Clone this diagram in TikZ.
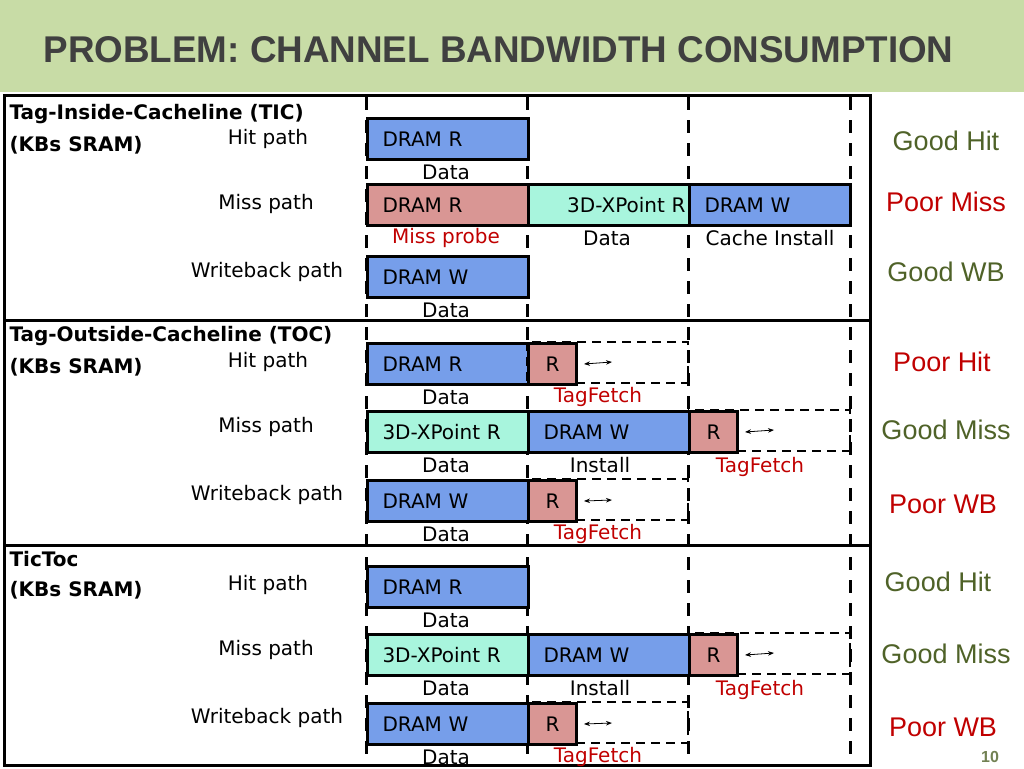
\documentclass[tikz,border=0pt]{standalone}
\usepackage{fontspec}
\setmainfont{DejaVu Sans}
\newfontfamily\arialfont{Liberation Sans}
\usetikzlibrary{arrows.meta}
\definecolor{dramBlue}{HTML}{769EEA}
\definecolor{probePink}{HTML}{D99694}
\definecolor{xpointGreen}{HTML}{A8F5DD}
\definecolor{titleGreen}{HTML}{C8DCA6}
\definecolor{goodGreen}{HTML}{4F6228}
\definecolor{poorRed}{HTML}{C00000}
\begin{document}
\begin{tikzpicture}[x=1pt,y=-1pt,%%
  boxStyle/.style={draw,line width=3pt,anchor=north west,minimum height=41pt,
    inner xsep=15pt,text width=131pt,align=left,font=\fontsize{20}{22}\selectfont},%%
  tagStyle/.style={draw,line width=3pt,anchor=north west,minimum height=41pt,
    inner xsep=0pt,text width=48pt,align=center,fill=probePink,font=\fontsize{20}{22}\selectfont},%%
  dashStyle/.style={line width=3pt,dash pattern=on 13pt off 10pt},%%
  dashBoxStyle/.style={line width=2.5pt,dash pattern=on 9pt off 6pt},%%
  arrowStyle/.style={{Stealth[length=6pt]}-{Stealth[length=6pt]},thick},%%
  labelStyle/.style={font=\fontsize{20}{22}\selectfont},%%
  headStyle/.style={anchor=west,font=\bfseries\fontsize{20}{22}\selectfont},%%
  verdictStyle/.style={font=\arialfont\fontsize{27}{30}\selectfont}%%
]
\useasboundingbox (0,0) rectangle (1024,768);
%%
\pgfmathsetmacro{\colA}{366}  %% left edge of the first stage
\pgfmathsetmacro{\colB}{527}
\pgfmathsetmacro{\colC}{688}
\pgfmathsetmacro{\colD}{850}
\pgfmathsetmacro{\dlab}{55}   %% from top of a box to its caption
%%
%% The title bar.
\fill[titleGreen] (0,0) rectangle (1024,92);
\node[anchor=west,text=black!75] (title) at (40,50)
  {\resizebox{910pt}{26pt}{\arialfont\bfseries PROBLEM: CHANNEL BANDWIDTH CONSUMPTION}};
%%
%% The frame and the dashed time slots.
\foreach \cx in {\colA,\colB,\colC,\colD}
  \draw[dashStyle] (\cx,97) -- (\cx,765);
\draw[line width=3pt] (4,95) rectangle (870,765);
\draw[line width=3pt] (4,320) -- (870,320);
\draw[line width=3pt] (4,545) -- (870,545);
%%
%% Left headings.
\node[headStyle] (ticHead) at (6,114) {Tag-Inside-Cacheline (TIC)};
\node[headStyle] (ticSram) at (6,145) {(KBs SRAM)};
\node[headStyle] (tocHead) at (6,336) {Tag-Outside-Cacheline (TOC)};
\node[headStyle] (tocSram) at (6,367) {(KBs SRAM)};
\node[headStyle] (tictocHead) at (6,559) {TicToc};
\node[headStyle] (tictocSram) at (6,590) {(KBs SRAM)};
\foreach \py/\nm in {0/tic,223/toc,446/tictoc} {
  \node[labelStyle] (\nm Hit) at (268,139+\py) {Hit path};
  \node[labelStyle] (\nm Miss) at (266,204+\py) {Miss path};
  \node[labelStyle] (\nm Wb) at (267,272+\py) {Writeback path};
}
%%
%% TIC rows.
\node[boxStyle,fill=dramBlue] (ticHitR) at (\colA,117) {DRAM R};
\node[labelStyle] at (446,117+\dlab) {Data};
\node[boxStyle,fill=probePink] (ticMissR) at (\colA,183) {DRAM R};
\node[boxStyle,fill=xpointGreen,inner xsep=4pt,text width=153pt,align=right] (ticMissX) at (\colB,183) {3D-XPoint R};
\node[boxStyle,fill=dramBlue] (ticMissW) at (\colC,183) {DRAM W};
\node[labelStyle,text=poorRed] at (446,183+\dlab) {Miss probe};
\node[labelStyle] at (607,183+\dlab) {Data};
\node[labelStyle] at (770,183+\dlab) {Cache Install};
\node[boxStyle,fill=dramBlue] (ticWbW) at (\colA,255) {DRAM W};
\node[labelStyle] at (446,255+\dlab) {Data};
%%
%% TOC and TicToc rows.
\foreach \py/\nm in {0/toc,223/tictoc} {
  %% Hit path.
  \node[boxStyle,fill=dramBlue] (\nm HitR) at (\colA,342+\py) {DRAM R};
  \node[labelStyle] at (446,342+\dlab+\py) {Data};
  %% Miss path.
  \draw[dashBoxStyle] (\colC,410+\py) rectangle (\colD,451+\py);
  \node[boxStyle,fill=xpointGreen] (\nm MissX) at (\colA,410+\py) {3D-XPoint R};
  \node[boxStyle,fill=dramBlue] (\nm MissW) at (\colB,410+\py) {DRAM W};
  \node[tagStyle] (\nm MissT) at (\colC,410+\py) {R};
  \coordinate (\nm MissE) at (774,430+\py);
  \draw[arrowStyle] ([xshift=6pt]\nm MissT.east) -- (\nm MissE);
  \node[labelStyle] at (446,410+\dlab+\py) {Data};
  \node[labelStyle] at (600,410+\dlab+\py) {Install};
  \node[labelStyle,text=poorRed] at (760,412+\dlab+\py) {TagFetch};
  %% Writeback path.
  \draw[dashBoxStyle] (\colB,479+\py) rectangle (\colC,520+\py);
  \node[boxStyle,fill=dramBlue] (\nm WbW) at (\colA,479+\py) {DRAM W};
  \node[tagStyle] (\nm WbT) at (\colB,479+\py) {R};
  \coordinate (\nm WbE) at (612,500+\py);
  \draw[arrowStyle] ([xshift=6pt]\nm WbT.east) -- (\nm WbE);
  \node[labelStyle] at (446,479+\dlab+\py) {Data};
  \node[labelStyle,text=poorRed] at (598,479+\dlab+\py) {TagFetch};
}
%% The tag fetch on the TOC hit path.
\draw[dashBoxStyle] (\colB,342) rectangle (\colC,383);
\node[tagStyle] (tocHitT) at (\colB,342) {R};
\coordinate (tocHitE) at (612,362);
\draw[arrowStyle] ([xshift=6pt]tocHitT.east) -- (tocHitE);
\node[labelStyle,text=poorRed] at (598,342+\dlab) {TagFetch};
%%
%% Verdicts.
\node[verdictStyle,text=goodGreen] (v1) at (946,141) {Good Hit};
\node[verdictStyle,text=poorRed] (v2) at (946,202) {Poor Miss};
\node[verdictStyle,text=goodGreen] (v3) at (946,272) {Good WB};
\node[verdictStyle,text=poorRed] (v4) at (942,362) {Poor Hit};
\node[verdictStyle,text=goodGreen] (v5) at (946,430) {Good Miss};
\node[verdictStyle,text=poorRed] (v6) at (943,504) {Poor WB};
\node[verdictStyle,text=goodGreen] (v7) at (938,582) {Good Hit};
\node[verdictStyle,text=goodGreen] (v8) at (946,654) {Good Miss};
\node[verdictStyle,text=poorRed] (v9) at (943,727) {Poor WB};
\node[text=goodGreen!80,font=\arialfont\bfseries\fontsize{16}{18}\selectfont] (page) at (990,757) {10};
\end{tikzpicture}
\end{document}
